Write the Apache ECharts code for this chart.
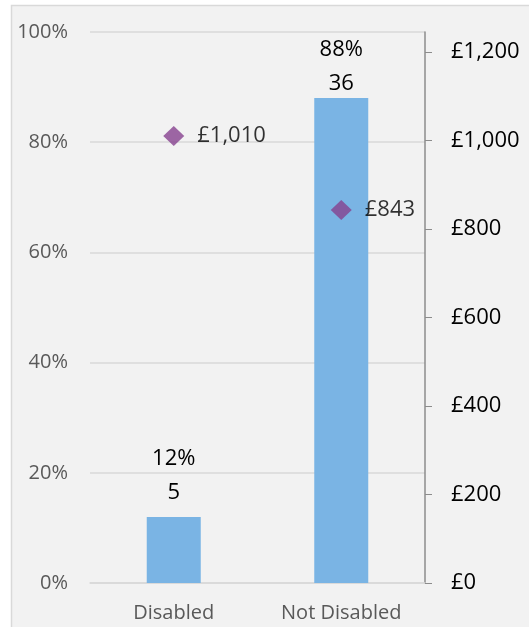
<!DOCTYPE html>
<html>
<head>
<meta charset="utf-8">
<script src="https://cdn.jsdelivr.net/npm/echarts@6/dist/echarts.min.js"></script>
<style>
  html, body { margin: 0; padding: 0; background: #ffffff; }
  #chart { width: 529px; height: 627px; }
</style>
</head>
<body>
<div id="chart"></div>
<script>
// Share of people (%) and head count per group, with average amount (£) per group
const categories = ['Disabled', 'Not Disabled'];
const sharePct = [12, 88];
const counts = [5, 36];
const avgAmount = [1010, 843];
const pctTicks = [0, 20, 40, 60, 80, 100];
const moneyTicks = [0, 200, 400, 600, 800, 1000, 1200];

const FONT = '"Open Sans", "Noto Sans", sans-serif';

function money(v) {
  return '£' + v.toLocaleString('en-GB');
}

// Labels of tall bars are nudged down so they stay inside the plot area
const barData = sharePct.map(v => ({
  value: v,
  label: v > 80 ? { offset: [0, 10] } : {}
}));

const chart = echarts.init(document.getElementById('chart'), null, { renderer: 'canvas' });

chart.setOption({
  animation: false,
  backgroundColor: 'transparent',
  graphic: [{
    type: 'rect',
    z: -10,
    shape: { x: 11.5, y: 5.5, width: 540, height: 640 },
    style: { fill: '#f2f2f2', stroke: '#d9d9d9', lineWidth: 1.5 }
  }],
  grid: { left: 90, right: 104, top: 32, bottom: 44 },
  xAxis: {
    type: 'category',
    data: categories,
    axisLine: { lineStyle: { color: '#d9d9d9', width: 1.5 } },
    axisTick: { show: false },
    axisLabel: { color: '#595959', fontSize: 20, fontFamily: FONT, margin: 20 }
  },
  yAxis: [{
    type: 'value',
    min: 0,
    max: 100,
    interval: 20,
    axisLine: { show: false },
    axisTick: { show: false },
    axisLabel: {
      color: '#595959', fontSize: 20, fontFamily: FONT, margin: 22,
      customValues: pctTicks,
      formatter: v => v + '%'
    },
    splitLine: { lineStyle: { color: '#d9d9d9', width: 1.5 } }
  }, {
    type: 'value',
    position: 'right',
    min: 0,
    max: 1245,
    interval: 200,
    axisLine: { show: true, lineStyle: { color: '#8c8c8c', width: 1.5 } },
    axisTick: { show: true, inside: false, length: 7, customValues: moneyTicks, lineStyle: { color: '#8c8c8c' } },
    axisLabel: {
      color: '#000000', fontSize: 22, fontFamily: FONT, margin: 26,
      customValues: moneyTicks,
      formatter: v => money(v)
    },
    splitLine: { show: false }
  }],
  series: [{
    type: 'bar',
    yAxisIndex: 0,
    data: barData,
    barWidth: 54,
    itemStyle: { color: '#7ab4e4' },
    label: {
      show: true,
      position: 'top',
      distance: 7,
      color: '#000000',
      fontSize: 22,
      fontFamily: FONT,
      lineHeight: 34,
      formatter: p => p.value + '%\n' + counts[p.dataIndex]
    }
  }, {
    type: 'scatter',
    yAxisIndex: 1,
    data: avgAmount,
    symbol: 'diamond',
    symbolSize: [21, 20],
    itemStyle: { color: '#86418f' },
    label: {
      show: true,
      position: 'right',
      distance: 13,
      color: '#000000',
      fontSize: 22,
      fontFamily: FONT,
      formatter: p => money(p.value)
    }
  }]
});
</script>
</body>
</html>
